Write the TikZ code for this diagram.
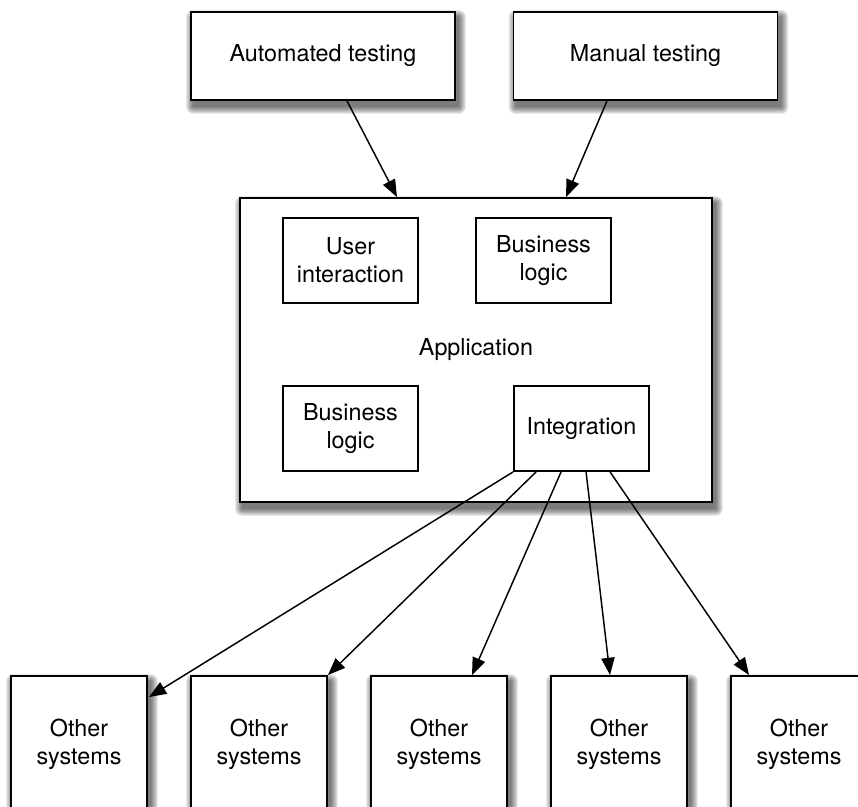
\documentclass[tikz,border=0pt]{standalone}
\usepackage{fontspec}
\setmainfont{TeX Gyre Heros}
\usetikzlibrary{arrows.meta,calc,backgrounds}

\tikzset{
  box/.style={draw=black, line width=1.4pt, fill=white, align=center,
    inner sep=0pt, font=\fontsize{17.5}{21}\selectfont},
  testbox/.style={box, minimum width=198pt, minimum height=66pt},
  appbox/.style={box, minimum width=354pt, minimum height=228pt},
  partbox/.style={box, minimum width=101.25pt, minimum height=63.75pt},
  sysbox/.style={box, minimum width=102pt, minimum height=102pt},
  link/.style={line width=1.1pt, -{Triangle[length=13pt, width=10pt]}},
  shadelayer/.style={fill=black, fill opacity=0.085, draw=none}
}

% soft drop shadow behind a named node, built from stacked translucent layers
\newcommand{\softshadow}[1]{%
  \begin{pgfonlayer}{background}
    \foreach \r in {0,1,...,7}
      \fill[shadelayer, rounded corners=\r*0.75pt]
        ($(#1.north west)+(3-\r,6-\r)$) rectangle ($(#1.south east)+(3+\r,6+\r)$);
  \end{pgfonlayer}}

\begin{document}
\begin{tikzpicture}[x=0.75pt, y=-0.75pt]
  \useasboundingbox (0,0) rectangle (858,807);

  % testing sources
  \node[testbox] (auto) at (323,56) {Automated testing};
  \node[testbox] (manual) at (645.5,56) {Manual testing};

  % application and its parts
  \node[appbox] (app) at (476,350) {Application};
  \node[partbox] (ui) at (350.5,260.5) {User\\interaction};
  \node[partbox] (bl1) at (543.5,260.5) {Business\\logic};
  \node[partbox] (bl2) at (350.5,428.5) {Business\\logic};
  \node[partbox] (integ) at (581.5,428.5) {Integration};

  % external systems
  \foreach \i/\x in {1/79,2/259,3/439,4/619,5/799}
    \node[sysbox] (o\i) at (\x,744) {Other\\systems};

  % shadows under the outer boxes
  \softshadow{auto}
  \softshadow{manual}
  \softshadow{app}
  \foreach \i in {1,...,5} {\softshadow{o\i}}

  % tests drive the application
  \draw[link] ($(auto.south)+(24,0)$) -- ($(app.north)+(-79,0)$);
  \draw[link] ($(manual.south)+(-38.5,0)$) -- ($(app.north)+(90,0)$);

  % integration fans out to the other systems
  \draw[link] (integ.south west) -- ($(o1.north east)+(1,22)$);
  \draw[link] ($(integ.south west)+(23,0)$) -- (o2.north east);
  \draw[link] ($(integ.south west)+(48,0)$) -- ($(o3.north)+(33,0)$);
  \draw[link] ($(integ.south west)+(73,0)$) -- ($(o4.north)+(-9,0)$);
  \draw[link] ($(integ.south west)+(97,0)$) -- ($(o5.north west)+(19,0)$);
\end{tikzpicture}
\end{document}
